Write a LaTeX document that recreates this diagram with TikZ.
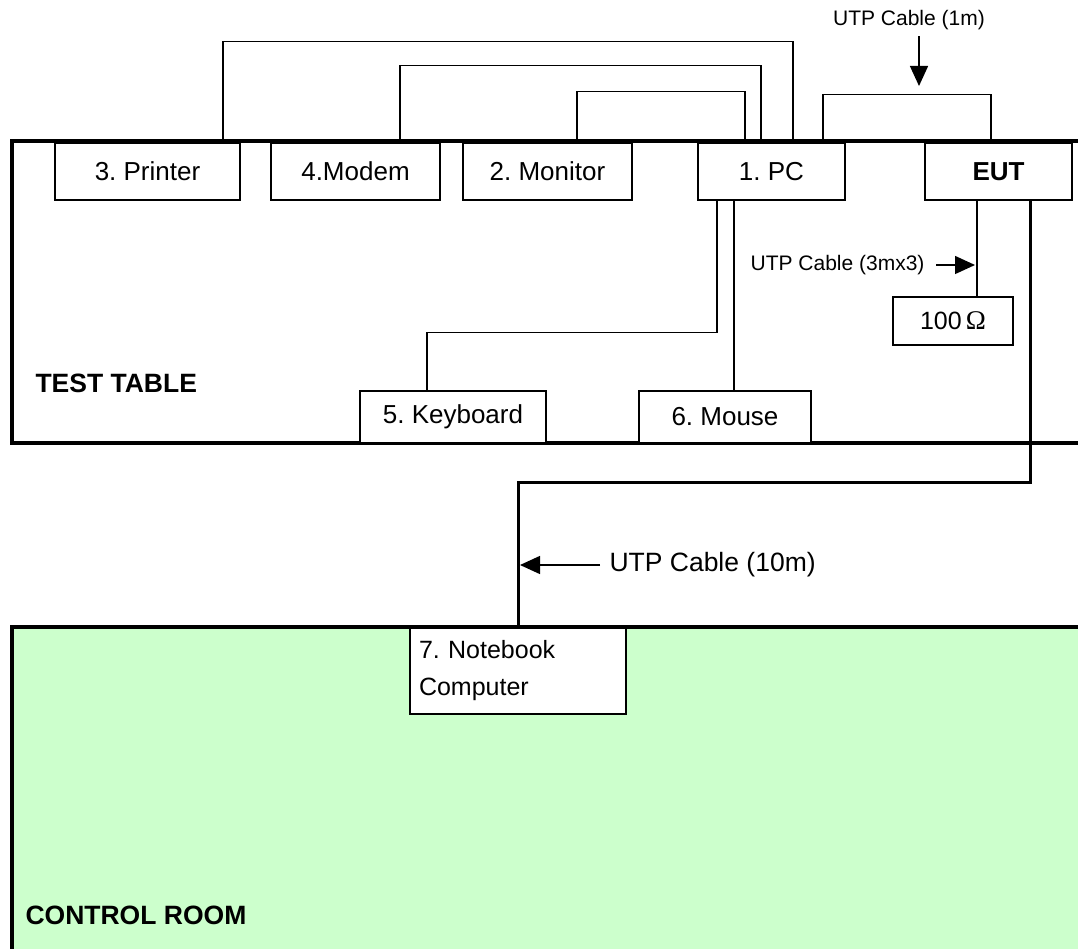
\documentclass[tikz,border=0pt]{standalone}
\usepackage{fontspec}
\setmainfont{Liberation Sans}
\newfontfamily\ohmfont{Liberation Serif}
\usetikzlibrary{arrows.meta}
\definecolor{roomgreen}{HTML}{CCFFCC}
\frenchspacing
\tikzset{
  unit/.style={draw,fill=white,line width=1.4pt,inner sep=0pt,font=\fontsize{26}{30}\selectfont},
  cable/.style={line width=1.4pt},
  heavy/.style={line width=4pt},
  tag/.style={font=\fontsize{21}{25}\selectfont},
  room/.style={font=\bfseries\fontsize{26.5}{31}\selectfont,anchor=west},
}

\begin{document}
\begin{tikzpicture}[x=1pt,y=-1pt,>={Triangle[length=20pt,width=18pt]}] % pixel grid, y runs down
  \useasboundingbox (0,0) rectangle (1078,949);

  % rooms
  \fill[roomgreen] (12,627) rectangle (1090,960);
  \draw[heavy] (1090,627) -- (12,627) -- (12,960);
  \draw[heavy] (1090,141) -- (12,141) -- (12,443) -- (1090,443);

  \node[room] (tt) at (32,383) {TEST TABLE};
  \node[room] (cr) at (22,915) {CONTROL ROOM};

  % units on the table
  \node[unit,minimum width=185pt,minimum height=57pt] (prn) at (147.5,171.5) {3. Printer};
  \node[unit,minimum width=169pt,minimum height=57pt] (mdm) at (355.5,171.5) {4.Modem};
  \node[unit,minimum width=169pt,minimum height=57pt] (mon) at (547.5,171.5) {2. Monitor};
  \node[unit,minimum width=147pt,minimum height=57pt] (pc) at (771.5,171.5) {1. PC};
  \node[unit,minimum width=147pt,minimum height=57pt] (eut) at (998.5,171.5) {\bfseries EUT};
  \node[unit,minimum width=186pt,minimum height=52pt] (kbd) at (453,417) {5. Keyboard};
  \node[unit,minimum width=172pt,minimum height=52pt] (mse) at (725,417) {6. Mouse};
  \node[unit,minimum width=120pt,minimum height=48pt,font=\fontsize{25}{30}\selectfont] (res) at (953,321) {100\,{\ohmfont\fontsize{27}{30}\selectfont Ω}};
  \node[unit,minimum width=216pt,minimum height=86pt,text width=198pt,align=left,
        font=\fontsize{25}{37}\selectfont] (nb) at (518,671) {7. Notebook\\Computer};

  % cables over the table
  \draw[cable] ([xshift=75.5pt]prn.north) -- ++(0,-101) -| ([xshift=21.5pt]pc.north);
  \draw[cable] ([xshift=44.5pt]mdm.north) -- ++(0,-77) -| ([xshift=-10.5pt]pc.north);
  \draw[cable] ([xshift=29.5pt]mon.north) -- ++(0,-51) -| ([xshift=-26.5pt]pc.north);
  \draw[cable] ([xshift=51.5pt]pc.north) -- ++(0,-48) -| ([xshift=-7.5pt]eut.north);

  % cables under the PC and the EUT
  \draw[cable] ([xshift=-54.5pt]pc.south) -- ++(0,132) -| ([xshift=-26pt]kbd.north);
  \draw[cable] ([xshift=-37.5pt]pc.south) -- ([xshift=-37.5pt]pc.south |- mse.north);
  \draw[cable] ([xshift=-21.5pt]eut.south) -- ([xshift=-21.5pt]eut.south |- res.north);
  \draw[line width=3pt] ([xshift=31.5pt]eut.south) -- ++(0,282) -| (nb.north);

  % cable labels
  \node[tag] (l1m) at (909,20) {UTP Cable (1m)};
  \coordinate (t1m) at (919,86);
  \draw[->,cable,shorten <=3pt] (l1m.south -| t1m) -- (t1m);

  \node[tag,anchor=east] (l3m) at (928,265) {UTP Cable (3mx3)};
  \coordinate (t3m) at (975,265);
  \draw[->,cable,shorten <=8pt] (l3m.east) -- (t3m);

  \node[font=\fontsize{26.5}{31}\selectfont,anchor=west] (l10) at (606,565) {UTP Cable (10m)};
  \coordinate (t10) at (520,565);
  \draw[->,cable,shorten <=6pt] (l10.west) -- (t10);

\end{tikzpicture}
\end{document}
